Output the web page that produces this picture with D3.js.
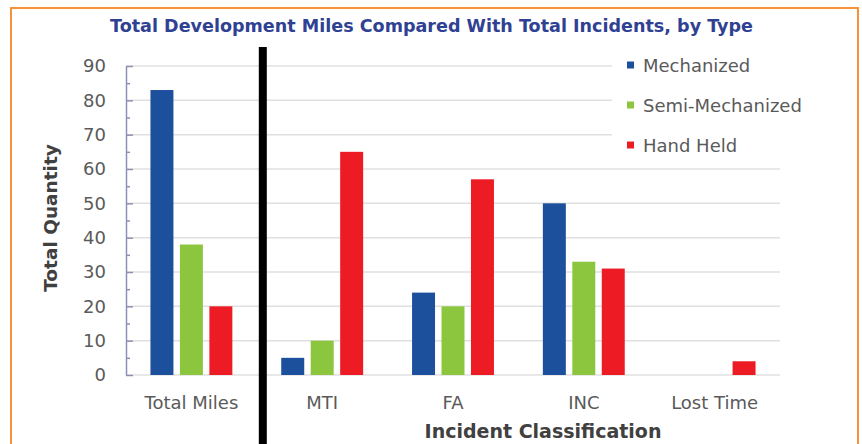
<!DOCTYPE html>
<html>
<head>
<meta charset="utf-8">
<script src="https://cdn.jsdelivr.net/npm/d3@7"></script>
<style>
  html, body { margin: 0; padding: 0; background: #ffffff; }
  svg { display: block; font-family: "DejaVu Sans", sans-serif; }
</style>
</head>
<body>
<svg id="chart" width="862" height="444"></svg>
<script>
// Categories, series and values
const categories = ["Total Miles", "MTI", "FA", "INC", "Lost Time"];
const seriesNames = ["Mechanized", "Semi-Mechanized", "Hand Held"];
const mechanized = [83, 5, 24, 50, 0];
const semiMechanized = [38, 10, 20, 33, 0];
const handHeld = [20, 65, 57, 31, 4];
const yTickValues = [0, 10, 20, 30, 40, 50, 60, 70, 80, 90];
const yMinorTickValues = [5, 15, 25, 35, 45, 55, 65, 75, 85];
const seriesColors = ["#1c4f9c", "#8cc63f", "#ed1c24"];

const titleText = "Total Development Miles Compared With Total Incidents, by Type";
const yTitleText = "Total Quantity";
const xTitleText = "Incident Classification";

const seriesValues = [mechanized, semiMechanized, handHeld];
const rows = categories.map((c, i) => ({
  category: c,
  values: seriesNames.map((s, j) => ({ series: s, value: seriesValues[j][i], color: seriesColors[j] }))
}));

const svg = d3.select("#chart");
const plot = { left: 126, right: 780, top: 66, bottom: 375 };

const x0 = d3.scaleBand().domain(categories).range([plot.left, plot.right]).padding(0);
const x1 = d3.scaleBand().domain(seriesNames).range([0, x0.bandwidth()])
  .paddingInner(0.22).paddingOuter(0.83);
const y = d3.scaleLinear().domain([0, 90]).range([plot.bottom, plot.top]);

// outer frame
svg.append("rect")
  .attr("x", 11).attr("y", 8).attr("width", 847).attr("height", 480)
  .attr("fill", "none").attr("stroke", "#f6923a").attr("stroke-width", 2);

// title
svg.append("text")
  .attr("x", 431.5).attr("y", 32)
  .attr("text-anchor", "middle")
  .attr("font-weight", "bold").attr("font-size", 17.5)
  .attr("fill", "#2f4192")
  .attr("textLength", 643).attr("lengthAdjust", "spacingAndGlyphs")
  .text(titleText);

// gridlines
svg.append("g").selectAll("line").data(yTickValues).join("line")
  .attr("x1", plot.left).attr("x2", plot.right)
  .attr("y1", d => y(d)).attr("y2", d => y(d))
  .attr("stroke", "#e0e0e0").attr("stroke-width", 1.5);

// bars
const groups = svg.append("g").selectAll("g").data(rows).join("g")
  .attr("transform", d => `translate(${x0(d.category)},0)`);
groups.selectAll("rect").data(d => d.values).join("rect")
  .attr("x", d => x1(d.series))
  .attr("width", x1.bandwidth())
  .attr("y", d => y(d.value))
  .attr("height", d => y(0) - y(d.value))
  .attr("fill", d => d.color);

// y axis: major ticks with labels, minor ticks without
const yAxis = svg.append("g").attr("transform", `translate(${plot.left},0)`)
  .call(d3.axisLeft(y).tickValues(yTickValues).tickSizeInner(-7).tickSizeOuter(0).tickPadding(20));
yAxis.select(".domain").attr("stroke", "#8c90b4").attr("stroke-width", 1.5);
yAxis.selectAll(".tick line").attr("stroke", "#8c90b4").attr("stroke-width", 1.5);
yAxis.selectAll(".tick text")
  .attr("font-family", "DejaVu Sans, sans-serif").attr("font-size", 18).attr("fill", "#5a5a5a");

const yMinor = svg.append("g").attr("transform", `translate(${plot.left},0)`)
  .call(d3.axisLeft(y).tickValues(yMinorTickValues).tickSizeInner(-4).tickSizeOuter(0).tickFormat(""));
yMinor.select(".domain").remove();
yMinor.selectAll(".tick line").attr("stroke", "#8c90b4").attr("stroke-width", 1.5);

// category labels
const xAxis = svg.append("g").attr("transform", `translate(0,${plot.bottom})`)
  .call(d3.axisBottom(x0).tickSize(0).tickPadding(21));
xAxis.select(".domain").remove();
xAxis.selectAll(".tick text")
  .attr("font-family", "DejaVu Sans, sans-serif").attr("font-size", 18).attr("fill", "#5a5a5a");

// separator between miles and incident categories
svg.append("rect")
  .attr("x", x0("MTI") + 2).attr("y", 47).attr("width", 8).attr("height", 420)
  .attr("fill", "#000000");

// axis titles
svg.append("text")
  .attr("transform", "translate(50,218) rotate(-90)")
  .attr("text-anchor", "middle").attr("dominant-baseline", "central")
  .attr("font-weight", "bold").attr("font-size", 18.5).attr("fill", "#404040")
  .text(yTitleText);

svg.append("text")
  .attr("x", 543).attr("y", 431)
  .attr("text-anchor", "middle").attr("dominant-baseline", "central")
  .attr("font-weight", "bold").attr("font-size", 19).attr("fill", "#404040")
  .text(xTitleText);

// legend
const legend = svg.append("g");
legend.append("rect")
  .attr("x", 612).attr("y", 47).attr("width", 172).attr("height", 116)
  .attr("fill", "#ffffff");
const items = legend.selectAll("g.item").data(seriesNames).join("g")
  .attr("class", "item")
  .attr("transform", (d, i) => `translate(627,${65 + i * 40})`);
items.append("rect")
  .attr("x", 0).attr("y", -3.5).attr("width", 7).attr("height", 7)
  .attr("fill", (d, i) => seriesColors[i]);
items.append("text")
  .attr("x", 16).attr("y", 0).attr("dominant-baseline", "central")
  .attr("font-size", 18).attr("fill", "#5a5a5a")
  .text(d => d);
</script>
</body>
</html>
